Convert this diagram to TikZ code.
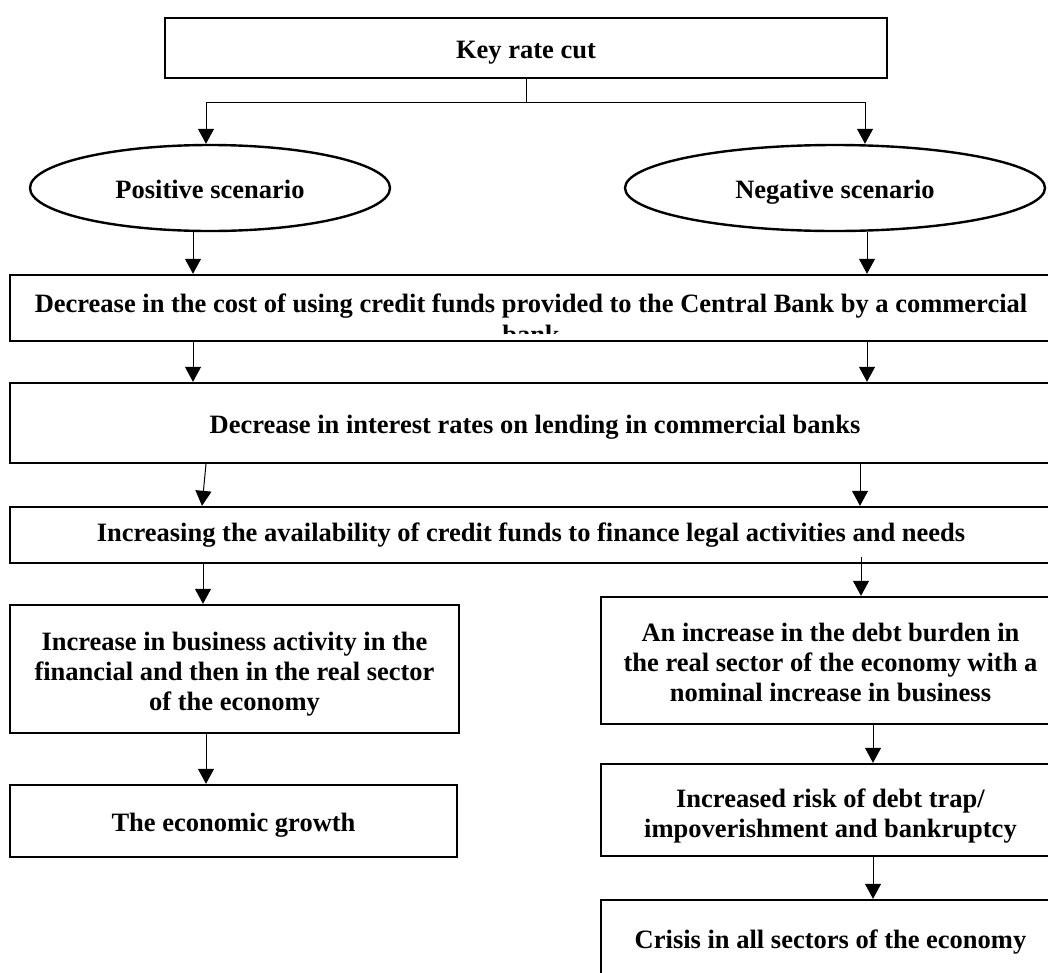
\documentclass[tikz,border=0pt]{standalone}
\usepackage{fontspec}
\setmainfont{Liberation Serif}
\usetikzlibrary{arrows.meta,shapes.geometric}
\begin{document}
\begin{tikzpicture}[x=1pt,y=-1pt,
  lbl/.style={font=\bfseries\fontsize{26.5pt}{30pt}\selectfont},
  box/.style={lbl, draw, line width=2.4pt, rectangle, inner sep=0pt, align=center, text height=24pt, text depth=4pt},
  oval/.style={lbl, draw, ellipse, line width=2.4pt, inner sep=0pt, text height=24pt, text depth=4pt},
  txt/.style={lbl, inner sep=0pt, align=center},
  ln/.style={line width=1pt},
  arr/.style={line width=1pt, -{Triangle[length=15pt,width=16pt]}}]
\useasboundingbox (0,0) rectangle (1048,972);
\clip (0,0) rectangle (1048,972);
\fill[white] (0,0) rectangle (1048,972);

% nodes
\node[box, minimum width=722pt, minimum height=60pt] (key) at (526,48) {Key rate cut};
\node[oval, minimum width=360pt, minimum height=86pt] (pos) at (210,188) {Positive scenario};
\node[oval, minimum width=420pt, minimum height=86pt] (neg) at (835,188) {Negative scenario};
\node[box, minimum width=1042pt, minimum height=66pt] (b2) at (531,308) {};
\begin{scope}
  \clip (10,276) rectangle (1052,333);
  \node[txt, anchor=base] (b2a) at (531,312) {Decrease in the cost of using credit funds provided to the Central Bank by a commercial};
  \node[txt, anchor=base] (b2b) at (531,343) {bank};
\end{scope}
\node[box, minimum width=1050pt, minimum height=80pt] (b3) at (535,423) {Decrease in interest rates on lending in commercial banks};
\node[box, minimum width=1042pt, minimum height=56pt, text height=20pt, text depth=8pt] (b4) at (531,535) {Increasing the availability of credit funds to finance legal activities and needs};
\node[box, minimum width=449pt, minimum height=128pt] (b5) at (234.5,669) {};
\node[txt] (b5t) at (234.5,674) {Increase in business activity in the\\financial and then in the real sector\\of the economy};
\node[box, minimum width=447pt, minimum height=72pt] (b9) at (233.5,821) {The economic growth};
\node[box, minimum width=459pt, minimum height=127pt] (b6) at (830.5,660.5) {};
\node[txt] (b6t) at (830.5,662) {An increase in the debt burden in\\the real sector of the economy with a\\nominal increase in business};
\node[box, minimum width=459pt, minimum height=92pt] (b7) at (830.5,810) {};
\node[txt] (b7t) at (830.5,816) {Increased risk of debt trap/\\impoverishment and bankruptcy};
\node[box, minimum width=459pt, minimum height=80pt, text height=22pt, text depth=6pt] (b8) at (830.5,940) {Crisis in all sectors of the economy};

% helper coordinates
\coordinate (cL) at (206,102);
\coordinate (cR) at (865,102);
\coordinate (xA) at (193,0);
\coordinate (xB) at (867,0);
\coordinate (xC) at (860,0);
\coordinate (xD) at (203,0);
\coordinate (xE) at (206,0);
\coordinate (xF) at (873,0);
\coordinate (s3L) at (206,464);
\coordinate (e3L) at (202,0);
\coordinate (s4R) at (861,557);

% connectors
\draw[ln] (key.south) -- (key.south |- cL);
\draw[ln] (cL) -- (cR);
\draw[arr] (cL) -- (cL |- pos.north);
\draw[arr] (cR) -- (cR |- neg.north);
\draw[arr] (pos.south -| xA) -- (b2.north -| xA);
\draw[arr] (neg.south -| xB) -- (b2.north -| xB);
\draw[arr] (b2.south -| xA) -- (b3.north -| xA);
\draw[arr] (b2.south -| xB) -- (b3.north -| xB);
\draw[arr] (s3L) -- (b4.north -| e3L);
\draw[arr] (b3.south -| xC) -- (b4.north -| xC);
\draw[arr] (b4.south -| xD) -- (b5.north -| xD);
\draw[arr] (s4R) -- (b6.north -| s4R);
\draw[arr] (b5.south -| xE) -- (b9.north -| xE);
\draw[arr] (b6.south -| xF) -- (b7.north -| xF);
\draw[arr] (b7.south -| xF) -- (b8.north -| xF);
\end{tikzpicture}
\end{document}
